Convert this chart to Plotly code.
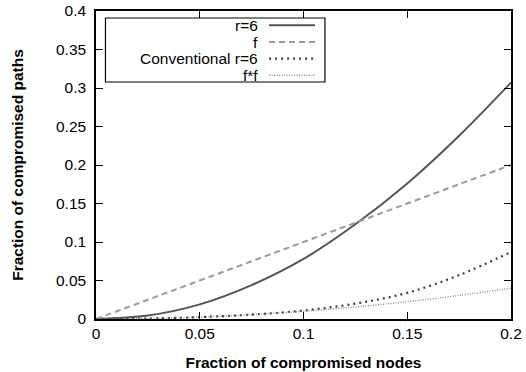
import plotly.graph_objects as go

# ---- data ----
x_frac = [0, 0.025, 0.05, 0.075, 0.1, 0.125, 0.15, 0.175, 0.2]
r6 = [0, 0.0045, 0.019, 0.044, 0.078, 0.123, 0.176, 0.238, 0.307]
f_line = [0, 0.025, 0.05, 0.075, 0.1, 0.125, 0.15, 0.175, 0.2]
conv_r6 = [0, 0.0006, 0.0025, 0.0057, 0.011, 0.020, 0.034, 0.057, 0.087]
f_sq = [0, 0.000625, 0.0025, 0.005625, 0.01, 0.015625, 0.0225, 0.030625, 0.04]

series_names = ["r=6", "f", "Conventional r=6", "f*f"]
x_ticks = [0, 0.05, 0.1, 0.15, 0.2]
x_tick_labels = ["0", "0.05", "0.1", "0.15", "0.2"]
y_ticks = [0, 0.05, 0.1, 0.15, 0.2, 0.25, 0.3, 0.35, 0.4]
y_tick_labels = ["0", "0.05", "0.1", "0.15", "0.2", "0.25", "0.3", "0.35", "0.4"]

FONT = "Liberation Sans, Arial, Helvetica, sans-serif"
styles = [
    dict(color="#555555", width=2, dash="solid"),
    dict(color="#9a9a9a", width=2, dash="6px,4px"),
    dict(color="#404040", width=2.2, dash="2px,4px"),
    dict(color="#8a8a8a", width=1.4, dash="1px,1.5px"),
]
ys = [r6, f_line, conv_r6, f_sq]

fig = go.Figure()
for name, y, st in zip(series_names, ys, styles):
    fig.add_trace(go.Scatter(x=x_frac, y=y, mode="lines", name=name,
                             line=dict(color=st["color"], width=st["width"],
                                       dash=st["dash"], shape="spline"),
                             showlegend=False, hoverinfo="skip"))

PAGE_W, PAGE_H = 526, 372
# plot area in page pixels
L, R, T, B = 95.5, 511.5, 11, 319
W, H = R - L, B - T
def px(v):
    return (v - L) / W
def py(v):
    return (B - v) / H

# ---- gnuplot-style legend (text right-aligned, sample on the right) ----
shapes = [dict(type="rect", xref="paper", yref="paper",
               x0=px(105), x1=px(325), y0=py(82), y1=py(18),
               line=dict(color="black", width=1.2), fillcolor="white", layer="above")]
annotations = []
row_y = [25.3, 42, 58.7, 75.3]
for name, st, yy in zip(series_names, styles, row_y):
    annotations.append(dict(xref="paper", yref="paper", x=px(260), y=py(yy),
                            text=name, showarrow=False, xanchor="right", yanchor="middle",
                            font=dict(family=FONT, size=15.5, color="black")))
    shapes.append(dict(type="line", xref="paper", yref="paper",
                       x0=px(269), x1=px(315), y0=py(yy), y1=py(yy),
                       line=dict(color=st["color"], width=st["width"], dash=st["dash"]),
                       layer="above"))

fig.update_layout(
    width=PAGE_W, height=PAGE_H,
    margin=dict(l=L, r=PAGE_W - R, t=T, b=PAGE_H - B, pad=0, autoexpand=False),
    paper_bgcolor="white", plot_bgcolor="white",
    font=dict(family=FONT, size=15.5, color="black"),
    shapes=shapes, annotations=annotations,
    xaxis=dict(range=[0, 0.2], tickvals=x_ticks, ticktext=x_tick_labels,
               ticks="inside", ticklen=7, tickwidth=1.3, tickcolor="black",
               showline=True, linecolor="black", linewidth=1.5, mirror="ticks",
               showgrid=False, zeroline=False, automargin=False,
               ticklabeloverflow="allow",
               title=dict(text="<b>Fraction of compromised nodes</b>", standoff=16,
                          font=dict(size=15.5))),
    yaxis=dict(range=[0, 0.4], tickvals=y_ticks, ticktext=y_tick_labels,
               ticks="inside", ticklen=7, tickwidth=1.3, tickcolor="black",
               showline=True, linecolor="black", linewidth=1.5, mirror="ticks",
               showgrid=False, zeroline=False, automargin=False,
               ticklabelstandoff=5, ticklabeloverflow="allow",
               title=dict(text="<b>Fraction of compromised paths</b>", standoff=29,
                          font=dict(size=15.5))),
)

fig.write_html("out.html", config={"displayModeBar": False},
               post_script="document.body.style.margin='0px';")
